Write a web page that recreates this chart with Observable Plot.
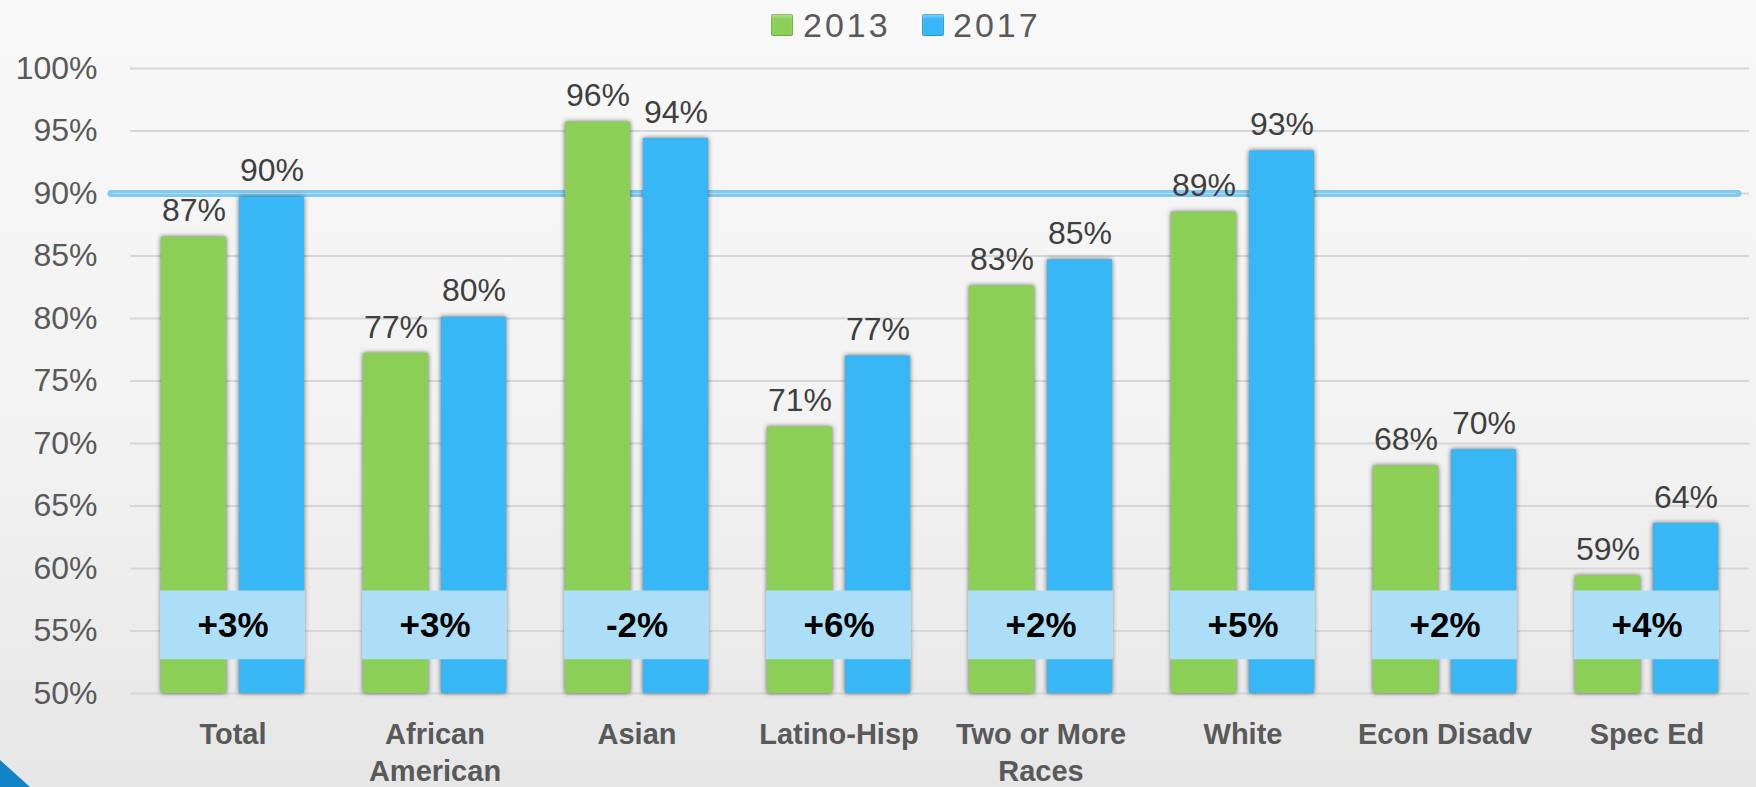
<!DOCTYPE html>
<html>
<head>
<meta charset="utf-8">
<script src="https://cdn.jsdelivr.net/npm/d3@7"></script>
<script src="https://cdn.jsdelivr.net/npm/@observablehq/plot@0.6"></script>
<style>
  html, body { margin: 0; padding: 0; }
  body {
    width: 1756px; height: 787px; overflow: hidden; position: relative;
    background: linear-gradient(to bottom, #f8f8f8 0%, #f2f2f2 55%, #e6e6e6 100%);
    font-family: "Liberation Sans", Arial, sans-serif;
  }
  #legend { position: relative; height: 50px; }
  #legend .sw {
    position: absolute; top: 14px; width: 22px; height: 22px; border-radius: 2px;
    box-shadow: inset 0 0 0 1px rgba(0,0,0,0.18), inset 0 3px 3px rgba(255,255,255,0.35);
  }
  #legend .lt {
    position: absolute; top: 8px; font-size: 34px; line-height: 34px;
    letter-spacing: 3px; color: #595959;
  }
  #corner {
    position: absolute; left: 0; bottom: 0; width: 30px; height: 27px;
    background: #1185c8; clip-path: polygon(0 0, 0 100%, 100% 100%);
  }
  #chart svg { display: block; }
</style>
</head>
<body>
<div id="legend"></div>
<div id="chart"></div>
<div id="corner"></div>
<script>
// ---- data ----
const categories = ["Total", "African American", "Asian", "Latino-Hisp", "Two or More Races", "White", "Econ Disadv", "Spec Ed"];
const tickLabels = ["Total", "African\nAmerican", "Asian", "Latino-Hisp", "Two or More\nRaces", "White", "Econ Disadv", "Spec Ed"];
const years = ["2013", "2017"];
const values2013 = [86.5, 77.2, 95.7, 71.3, 82.6, 88.5, 68.2, 59.4];
const values2017 = [89.7, 80.1, 94.4, 77.0, 84.7, 93.4, 69.5, 63.6];
const labels2013 = ["87%", "77%", "96%", "71%", "83%", "89%", "68%", "59%"];
const labels2017 = ["90%", "80%", "94%", "77%", "85%", "93%", "70%", "64%"];
const changes = ["+3%", "+3%", "-2%", "+6%", "+2%", "+5%", "+2%", "+4%"];
const yTicks = [50, 55, 60, 65, 70, 75, 80, 85, 90, 95, 100];
const yTickLabels = ["50%", "55%", "60%", "65%", "70%", "75%", "80%", "85%", "90%", "95%", "100%"];
const target = [90];

const colors = {"2013": "#8ccf56", "2017": "#38b7f6"};

// legend
const legend = document.getElementById("legend");
const legendPos = {"2013": [771, 803], "2017": [922, 953]};
years.forEach(y => {
  const sw = document.createElement("span");
  sw.className = "sw"; sw.style.left = legendPos[y][0] + "px"; sw.style.background = colors[y];
  const t = document.createElement("span");
  t.className = "lt"; t.style.left = legendPos[y][1] + "px"; t.textContent = y;
  legend.appendChild(sw); legend.appendChild(t);
});

const rows = categories.map((c, i) => ({
  category: c, v13: values2013[i], v17: values2017[i],
  l13: labels2013[i], l17: labels2017[i], change: changes[i]
}));

const boxLo = 52.7, boxHi = 58.2, boxMid = 55.45;

const chart = Plot.plot({
  width: 1756,
  height: 737,
  marginTop: 18,
  marginBottom: 94,
  marginLeft: 130,
  marginRight: 7,
  style: {background: "transparent", fontFamily: "'Liberation Sans', Arial, sans-serif", overflow: "visible"},
  x: {domain: categories, paddingInner: 0.29, paddingOuter: 0.138, axis: null, label: null},
  y: {domain: [50, 100], axis: null, label: null},
  marks: [
    Plot.ruleY(yTicks, {stroke: "#d6d6d6", strokeWidth: 2}),
    Plot.ruleY(target, {stroke: "#7fcaf0", strokeWidth: 7, strokeLinecap: "round", insetLeft: -19, insetRight: 11}),
    Plot.ruleY(target, {stroke: "#b3def4", strokeWidth: 1, insetLeft: -17, insetRight: 13}),
    Plot.barY(rows, {x: "category", y1: () => 50, y2: "v13", fill: colors["2013"], insetRight: 78}),
    Plot.barY(rows, {x: "category", y1: () => 50, y2: "v17", fill: colors["2017"], insetLeft: 78}),
    Plot.barY(rows, {x: "category", y1: () => boxLo, y2: () => boxHi, fill: "#acdff7", insetLeft: -1, insetRight: -1}),
    Plot.text(rows, {x: "category", y: () => boxMid, text: "change", fontSize: 35, fontWeight: "bold", fill: "#000"}),
    Plot.text(rows, {x: "category", y: "v13", text: "l13", dx: -39, dy: -16, lineAnchor: "bottom", fontSize: 32, fill: "#3f3f3f"}),
    Plot.text(rows, {x: "category", y: "v17", text: "l17", dx: 39, dy: -16, lineAnchor: "bottom", fontSize: 32, fill: "#3f3f3f"}),
    Plot.axisY(yTicks, {tickSize: 0, tickPadding: 33, fontSize: 32, fill: "#595959", label: null,
      tickFormat: d => yTickLabels[yTicks.indexOf(d)]}),
    Plot.axisX({tickSize: 0, tickPadding: 24, fontSize: 29, fontWeight: "bold", fill: "#595959", lineHeight: 1.28, label: null,
      tickFormat: d => tickLabels[categories.indexOf(d)]})
  ]
});
document.getElementById("chart").appendChild(chart);
d3.select(chart).selectAll("rect")
  .filter(function() { const f = this.getAttribute("fill") || (this.parentNode && this.parentNode.getAttribute("fill")); return f === colors["2013"] || f === colors["2017"]; })
  .style("filter", "drop-shadow(0px 0px 2.5px rgba(0,0,0,0.6))");
</script>
</body>
</html>
